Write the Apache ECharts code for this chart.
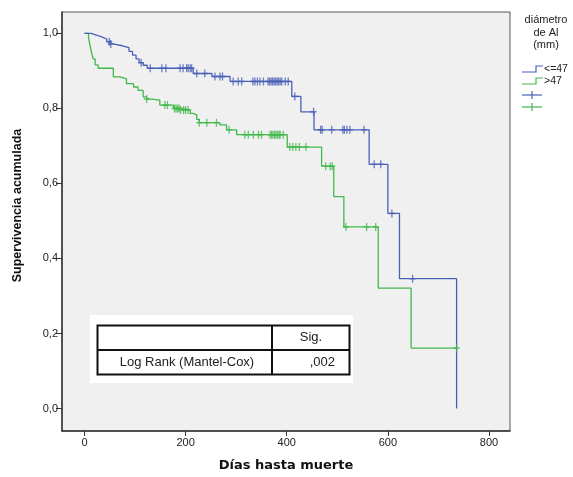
<!DOCTYPE html>
<html>
<head>
<meta charset="utf-8">
<script src="https://cdn.jsdelivr.net/npm/echarts@6/dist/echarts.min.js"></script>
<style>
  html, body { margin: 0; padding: 0; background: #fff; }
  #chart { width: 573px; height: 477px; }
</style>
</head>
<body>
<div id="chart"></div>
<script>
// curvas de Kaplan-Meier: [dias, supervivencia]
var blueSteps = [
  [0, 1.0], [13, 0.995], [25, 0.99], [35, 0.985], [44, 0.978], [50, 0.972],
  [56, 0.967], [75, 0.962], [88, 0.952], [95, 0.942], [102, 0.932], [108, 0.922],
  [116, 0.915], [124, 0.907], [215, 0.893], [252, 0.885], [288, 0.872],
  [410, 0.832], [428, 0.791], [454, 0.743], [563, 0.651], [600, 0.52],
  [623, 0.346], [736, 0.0]
];
var greenSteps = [
  [0, 1.0], [8, 0.989], [11, 0.967], [14, 0.949], [17, 0.932], [21, 0.916],
  [27, 0.907], [57, 0.884], [70, 0.879], [83, 0.866], [97, 0.857], [106, 0.848],
  [116, 0.831], [123, 0.825], [133, 0.822], [149, 0.809], [176, 0.8],
  [190, 0.796], [209, 0.787], [215, 0.783], [222, 0.771], [227, 0.762],
  [268, 0.756], [281, 0.743], [301, 0.73], [401, 0.697], [469, 0.646],
  [493, 0.565], [513, 0.484], [581, 0.321], [646, 0.161], [736, 0.161]
];
// tiempos censurados
var blueCensored = [49, 52, 112, 130, 153, 161, 189, 195, 202, 205, 209, 212,
  222, 238, 258, 268, 273, 294, 304, 311, 333, 337, 342, 347, 354, 363, 366,
  369, 372, 375, 378, 381, 384, 387, 390, 397, 403, 416, 453, 467, 470, 489,
  511, 514, 519, 525, 553, 573, 586, 608, 649];
var greenCensored = [123, 159, 164, 178, 181, 184, 187, 190, 196, 200, 205,
  227, 242, 261, 286, 317, 324, 334, 344, 350, 367, 370, 373, 376, 379, 382,
  385, 387, 393, 406, 412, 418, 425, 438, 477, 486, 490, 517, 558, 576, 736];

var xTicks = [0, 200, 400, 600, 800];
var yTicks = [0, 0.2, 0.4, 0.6, 0.8, 1.0];
var groupNames = ['<=47', '>47'];

var blue = '#4a5fb6';
var green = '#42b84c';
var plus = 'path://M2.75,0h1.5v8h-1.5zM0,3.25h7v1.5h-7z';

function levelAt(steps, t) {
  var s = steps[0][1];
  for (var i = 0; i < steps.length; i++) {
    if (steps[i][0] <= t) s = steps[i][1];
  }
  return s;
}

var chart = echarts.init(document.getElementById('chart'));
var option = {
  backgroundColor: '#fff',
  animation: false,
  grid: {
    left: 62, right: 63, top: 12, bottom: 41,
    show: true, backgroundColor: '#f0f0f0', borderColor: '#555', borderWidth: 1
  },
  xAxis: {
    type: 'value', min: -44.5, max: 841.6,
    name: 'Días hasta muerte', nameLocation: 'middle', nameGap: 28,
    nameTextStyle: { fontFamily: 'DejaVu Sans', fontWeight: 'bold', fontSize: 13, color: '#111' },
    axisLine: { onZero: false, lineStyle: { color: '#333', width: 1.5 } },
    axisTick: { length: 5, customValues: xTicks, lineStyle: { color: '#333' } },
    axisLabel: { customValues: xTicks, margin: 6, fontFamily: 'Liberation Sans', fontSize: 11, color: '#222' },
    splitLine: { show: false }
  },
  yAxis: {
    type: 'value', min: -0.06, max: 1.057,
    name: 'Supervivencia acumulada', nameLocation: 'middle', nameGap: 38,
    nameTextStyle: { fontFamily: 'Liberation Sans', fontWeight: 'bold', fontSize: 12.5, color: '#111', padding: [0, 0, 0, 32] },
    axisLine: { onZero: false, lineStyle: { color: '#333', width: 1.5 } },
    axisTick: { length: 6, customValues: yTicks, lineStyle: { color: '#333' } },
    axisLabel: {
      customValues: yTicks, margin: 4, fontFamily: 'Liberation Sans', fontSize: 11, color: '#222',
      formatter: function (v) { return v.toFixed(1).replace('.', ','); }
    },
    splitLine: { show: false }
  },
  series: [
    {
      name: groupNames[0], type: 'line', step: 'end', symbol: 'none',
      lineStyle: { color: blue, width: 1.3 }, data: blueSteps, z: 3
    },
    {
      name: groupNames[1], type: 'line', step: 'end', symbol: 'none',
      lineStyle: { color: green, width: 1.3 }, data: greenSteps, z: 2
    },
    {
      name: groupNames[0] + ' censurado', type: 'scatter', symbol: plus, symbolSize: [6, 8],
      itemStyle: { color: blue }, z: 4,
      data: blueCensored.map(function (t) { return [t, levelAt(blueSteps, t)]; })
    },
    {
      name: groupNames[1] + ' censurado', type: 'scatter', symbol: plus, symbolSize: [6, 8],
      itemStyle: { color: green }, z: 4,
      data: greenCensored.map(function (t) { return [t, levelAt(greenSteps, t)]; })
    }
  ],
  graphic: [
    // leyenda
    { type: 'text', x: 546, y: 14, style: { text: 'diámetro\nde Al\n(mm)', align: 'center', fill: '#222', font: '11px Liberation Sans', lineHeight: 12.5 } },
    { type: 'polyline', shape: { points: [[522, 72], [536, 72], [536, 66], [543, 66]] }, style: { stroke: blue, lineWidth: 1.2, fill: null } },
    { type: 'text', x: 544, y: 64, style: { text: groupNames[0], fill: '#222', font: '10.5px Liberation Sans' } },
    { type: 'polyline', shape: { points: [[522, 84], [536, 84], [536, 78], [543, 78]] }, style: { stroke: green, lineWidth: 1.2, fill: null } },
    { type: 'text', x: 544, y: 76, style: { text: groupNames[1], fill: '#222', font: '10.5px Liberation Sans' } },
    { type: 'line', shape: { x1: 522, y1: 95, x2: 542, y2: 95 }, style: { stroke: blue, lineWidth: 1.2 } },
    { type: 'line', shape: { x1: 532, y1: 91, x2: 532, y2: 99 }, style: { stroke: blue, lineWidth: 1.2 } },
    { type: 'line', shape: { x1: 522, y1: 107, x2: 542, y2: 107 }, style: { stroke: green, lineWidth: 1.2 } },
    { type: 'line', shape: { x1: 532, y1: 103, x2: 532, y2: 111 }, style: { stroke: green, lineWidth: 1.2 } },
    // tabla de la prueba
    { type: 'rect', shape: { x: 90, y: 315, width: 263, height: 68 }, style: { fill: '#fff' } },
    { type: 'rect', shape: { x: 97.5, y: 325.5, width: 252, height: 49 }, style: { fill: '#fff', stroke: '#111', lineWidth: 2 } },
    { type: 'line', shape: { x1: 97.5, y1: 350, x2: 349.5, y2: 350 }, style: { stroke: '#111', lineWidth: 2 } },
    { type: 'line', shape: { x1: 272, y1: 325.5, x2: 272, y2: 374.5 }, style: { stroke: '#111', lineWidth: 2 } },
    { type: 'text', x: 311, y: 337.5, style: { text: 'Sig.', align: 'center', verticalAlign: 'middle', fill: '#222', font: '13px Liberation Sans' } },
    { type: 'text', x: 187, y: 362.5, style: { text: 'Log Rank (Mantel-Cox)', align: 'center', verticalAlign: 'middle', fill: '#222', font: '13px Liberation Sans' } },
    { type: 'text', x: 335, y: 362.5, style: { text: ',002', align: 'right', verticalAlign: 'middle', fill: '#222', font: '13px Liberation Sans' } }
  ]
};
chart.setOption(option);
</script>
</body>
</html>
